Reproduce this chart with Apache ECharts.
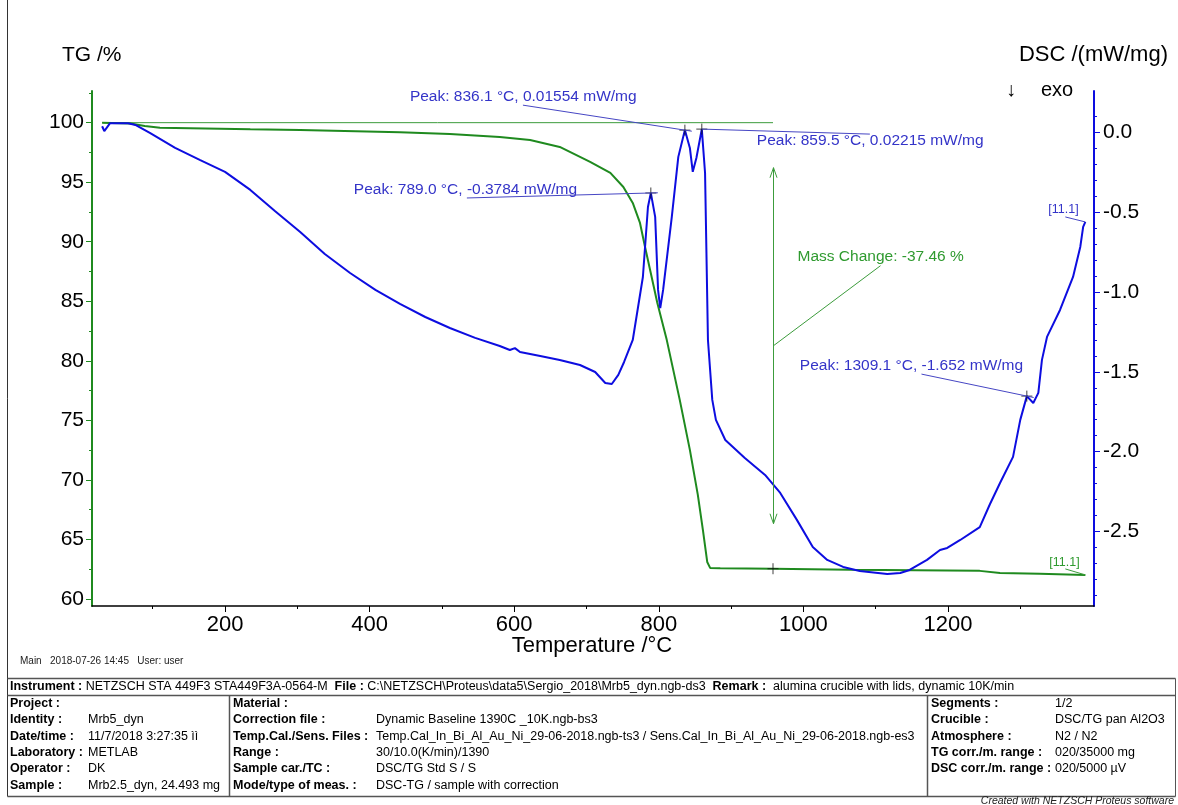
<!DOCTYPE html>
<html>
<head>
<meta charset="utf-8">
<title>TG / DSC - Mrb5_dyn</title>
<script src="https://cdn.jsdelivr.net/npm/echarts@6/dist/echarts.min.js"></script>
<style>
  html, body { margin: 0; padding: 0; background: #fff; }
  #chart { width: 1178px; height: 805px; }
</style>
</head>
<body>
<div id="chart"></div>
<script>
// axis ticks
const tempTicks = [200, 400, 600, 800, 1000, 1200];
const tempMinorTicks = [100, 300, 500, 700, 900, 1100, 1300];
const tgTicks = [60, 65, 70, 75, 80, 85, 90, 95, 100];
const tgMinorTicks = [62.5, 67.5, 72.5, 77.5, 82.5, 87.5, 92.5, 97.5, 102.5];
const dscTicks = [-2.5, -2.0, -1.5, -1.0, -0.5, 0.0];

// TG curve, %
const tgTemp = [30, 69, 89, 110, 235, 304, 442, 511, 580, 622,
  663, 705, 733, 751, 764, 774, 781, 788, 798, 811,
  829, 843, 854, 861, 867, 871, 885, 958, 1065, 1244,
  1272, 1327, 1390];
const tgValue = [100.0, 99.93, 99.72, 99.58, 99.45, 99.39, 99.19, 99.05, 98.80, 98.55,
  97.96, 96.70, 95.78, 94.60, 93.26, 91.58, 89.56, 87.63, 84.86, 81.76,
  76.72, 72.52, 68.74, 65.80, 63.11, 62.61, 62.57, 62.54, 62.45, 62.36,
  62.19, 62.11, 62.02];

// DSC curve, mW/mg
const dscTemp = [30, 33, 41, 66, 76, 96, 131, 165, 200, 235,
  269, 304, 338, 373, 408, 442, 477, 511, 546, 580,
  594, 601, 608, 636, 663, 691, 712, 726, 735, 744,
  752, 764, 778, 785, 789, 795, 799, 802, 806, 818,
  827, 836.1, 843, 847, 852, 854, 859.5, 864, 868, 874,
  879, 892, 919, 947, 968, 991, 1013, 1033, 1055, 1078,
  1116, 1134, 1147, 1171, 1189, 1199, 1217, 1244, 1258, 1272,
  1290, 1300, 1309.1, 1318, 1325, 1330, 1337, 1355, 1373, 1383,
  1387, 1390];
const dscValue = [0.04, 0.01, 0.059, 0.059, 0.048, -0.002, -0.096, -0.171, -0.246, -0.359,
  -0.491, -0.623, -0.761, -0.880, -0.986, -1.074, -1.156, -1.225, -1.287, -1.338,
  -1.363, -1.351, -1.376, -1.401, -1.426, -1.457, -1.501, -1.570, -1.576, -1.519,
  -1.438, -1.300, -0.905, -0.466, -0.378, -0.528, -0.986, -1.100, -0.986, -0.528,
  -0.152, 0.016, -0.096, -0.246, -0.159, -0.152, 0.022, -0.253, -1.300, -1.676,
  -1.801, -1.927, -2.040, -2.146, -2.259, -2.428, -2.598, -2.679, -2.723, -2.748,
  -2.767, -2.761, -2.742, -2.679, -2.617, -2.604, -2.554, -2.473, -2.33, -2.197,
  -2.033, -1.801, -1.652, -1.695, -1.632, -1.425, -1.281, -1.112, -0.905, -0.717,
  -0.591, -0.560];

// evaluated peaks
const peakTemp = [789.0, 836.1, 859.5, 1309.1];
const peakDsc = [-0.3784, 0.01554, 0.02215, -1.652];

// mass change step
const massChangeTemp = 958;
const massChange = -37.46;
const segmentLabel = '[11.1]';

// measurement info
const infoHeader = [
  ['Instrument :', 'NETZSCH STA 449F3 STA449F3A-0564-M'],
  ['File :', 'C:\\NETZSCH\\Proteus\\data5\\Sergio_2018\\Mrb5_dyn.ngb-ds3'],
  ['Remark :', ' alumina crucible with lids, dynamic 10K/min']
];
const infoCol1 = [
  ['Project :', ''],
  ['Identity :', 'Mrb5_dyn'],
  ['Date/time :', '11/7/2018 3:27:35 ìì'],
  ['Laboratory :', 'METLAB'],
  ['Operator :', 'DK'],
  ['Sample :', 'Mrb2.5_dyn, 24.493 mg']
];
const infoCol2 = [
  ['Material :', ''],
  ['Correction file :', 'Dynamic Baseline 1390C _10K.ngb-bs3'],
  ['Temp.Cal./Sens. Files :', 'Temp.Cal_In_Bi_Al_Au_Ni_29-06-2018.ngb-ts3 / Sens.Cal_In_Bi_Al_Au_Ni_29-06-2018.ngb-es3'],
  ['Range :', '30/10.0(K/min)/1390'],
  ['Sample car./TC :', 'DSC/TG Std S / S'],
  ['Mode/type of meas. :', 'DSC-TG / sample with correction']
];
const infoCol3 = [
  ['Segments :', '1/2'],
  ['Crucible :', 'DSC/TG pan Al2O3'],
  ['Atmosphere :', 'N2 / N2'],
  ['TG corr./m. range :', '020/35000 mg'],
  ['DSC corr./m. range :', '020/5000 µV']
];

const FONT = '"Liberation Sans", Arial, Helvetica, sans-serif';
const GREEN = '#1f8a1f';
const GREEN_TXT = '#2f9a2f';
const BLUE = '#0d0de0';
const BLUE_TXT = '#3434c8';

const zip = (a, b) => a.map((v, i) => [v, b[i]]);

const chart = echarts.init(document.getElementById('chart'));

function mainAxis(extra) {
  return Object.assign({
    type: 'value',
    splitLine: { show: false },
    axisLine: { show: true, onZero: false },
    axisTick: { show: true, inside: false }
  }, extra);
}

const option = {
  animation: false,
  backgroundColor: '#fff',
  grid: { left: 92, right: 84, top: 91, bottom: 199 },
  xAxis: [
    mainAxis({
      min: 16, max: 1402, position: 'bottom',
      axisLine: { show: true, onZero: false, lineStyle: { color: '#000', width: 1.5 } },
      axisTick: { show: true, customValues: tempTicks, length: 6, lineStyle: { color: '#000' } },
      axisLabel: { customValues: tempTicks, formatter: v => String(v), color: '#000', fontSize: 22, fontFamily: FONT, margin: 8 }
    }),
    mainAxis({
      min: 16, max: 1402, position: 'bottom',
      axisLine: { show: false, onZero: false },
      axisTick: { show: true, customValues: tempMinorTicks, length: 3, lineStyle: { color: '#000' } },
      axisLabel: { show: false }
    })
  ],
  yAxis: [
    mainAxis({
      min: 59.41, max: 102.66, position: 'left',
      axisLine: { show: true, onZero: false, lineStyle: { color: GREEN, width: 2 } },
      axisTick: { show: true, customValues: tgTicks, length: 6, lineStyle: { color: GREEN } },
      axisLabel: { customValues: tgTicks, formatter: v => String(v), color: '#000', fontSize: 21, fontFamily: FONT, margin: 8 }
    }),
    mainAxis({
      min: -2.968, max: 0.261, position: 'right',
      axisLine: { show: true, onZero: false, lineStyle: { color: BLUE, width: 2 } },
      axisTick: { show: true, customValues: dscTicks, length: 6, lineStyle: { color: BLUE } },
      axisLabel: { customValues: dscTicks, formatter: v => v.toFixed(1), color: '#000', fontSize: 21, fontFamily: FONT, margin: 9 }
    }),
    mainAxis({
      min: 59.41, max: 102.66, position: 'left',
      axisLine: { show: false, onZero: false },
      axisTick: { show: true, customValues: tgMinorTicks, length: 3, lineStyle: { color: GREEN } },
      axisLabel: { show: false }
    }),
    mainAxis({
      min: -2.968, max: 0.261, position: 'right',
      axisLine: { show: false, onZero: false },
      axisTick: {
        show: true, length: 3, lineStyle: { color: BLUE },
        customValues: Array.from({ length: 31 }, (_, i) => +(-2.9 + i * 0.1).toFixed(1))
          .filter(v => Math.abs(v * 2 - Math.round(v * 2)) > 1e-6)
      },
      axisLabel: { show: false }
    })
  ],
  series: [
    {
      name: 'TG', type: 'line', xAxisIndex: 0, yAxisIndex: 0,
      data: zip(tgTemp, tgValue), showSymbol: false, z: 3,
      lineStyle: { color: GREEN, width: 2 }
    },
    {
      name: 'TG start', type: 'line', xAxisIndex: 0, yAxisIndex: 0,
      data: [[tgTemp[0], tgValue[0]], [massChangeTemp, tgValue[0]]], showSymbol: false, z: 2,
      lineStyle: { color: '#3c9c3c', width: 1 }
    },
    {
      name: 'DSC', type: 'line', xAxisIndex: 0, yAxisIndex: 1,
      data: zip(dscTemp, dscValue), showSymbol: false, z: 4,
      lineStyle: { color: BLUE, width: 2 }
    },
    {
      name: 'peaks', type: 'scatter', xAxisIndex: 0, yAxisIndex: 1, z: 6,
      data: zip(peakTemp, peakDsc),
      symbol: 'path://M5,0L5,10M0,5L10,5', symbolSize: [11, 11],
      itemStyle: { color: 'none', borderColor: '#111', borderWidth: 1 }
    },
    {
      name: 'mass change', type: 'scatter', xAxisIndex: 0, yAxisIndex: 0, z: 6,
      data: [[massChangeTemp, 100 + massChange]],
      symbol: 'path://M5,0L5,10M0,5L10,5', symbolSize: [11, 11],
      itemStyle: { color: 'none', borderColor: '#111', borderWidth: 1 }
    }
  ]
};

chart.setOption(option);

// annotations and info block
const measureCtx = document.createElement('canvas').getContext('2d');
function textWidth(str, font) {
  measureCtx.font = font;
  return measureCtx.measureText(str).width;
}
function label(text, x, y, size, color, align, extra) {
  return {
    type: 'text', x: x, y: y, silent: true, z: 100,
    style: Object.assign({
      text: text, fill: color || '#000', font: size + 'px ' + FONT,
      align: align || 'left', verticalAlign: 'middle',
      textAlign: align || 'left', textVerticalAlign: 'middle'
    }, extra || {})
  };
}
function seg(x1, y1, x2, y2, color, w) {
  return { type: 'line', silent: true, z: 100, shape: { x1, y1, x2, y2 }, style: { stroke: color, lineWidth: w || 1 } };
}
function vee(points, color) {
  return { type: 'polyline', silent: true, z: 100, shape: { points: points }, style: { stroke: color, fill: null, lineWidth: 1 } };
}
const px = (t, v, yi) => chart.convertToPixel({ xAxisIndex: 0, yAxisIndex: yi }, [t, v]);

const g = [];

// axis titles
g.push(label('TG /%', 62, 55, 21));
g.push(label('DSC /(mW/mg)', 1168, 55, 22, '#000', 'right'));
g.push(label('\u2193', 1011, 90, 20, '#000', 'center'));
g.push(label('exo', 1041, 90, 20));
g.push(label('Temperature /\u00b0C', 592, 646, 22, '#000', 'center'));

// peak labels
const annFont = '15.5px ' + FONT;
const peakLabelDx = [-297, -275, 55, -227];
const peakLabelDy = [-3, -33, 12, -30];
peakTemp.forEach((t, i) => {
  const p = px(t, peakDsc[i], 1);
  const prefix = 'Peak: ' + t.toFixed(1) + ' \u00b0C, ';
  const text = prefix + peakDsc[i] + ' mW/mg';
  const lx = p[0] + peakLabelDx[i];
  const ly = p[1] + peakLabelDy[i];
  g.push(label(text, lx, ly, 15.5, BLUE_TXT));
  const ax = lx + textWidth(prefix, annFont);
  const ay = peakLabelDy[i] < 0 ? ly + 8 : ly - 7;
  // leader runs a little past the peak mark
  const dx = p[0] - ax, dy = p[1] - ay, len = Math.hypot(dx, dy);
  const over = peakLabelDy[i] < 0 ? 7 : 0;
  g.push(seg(ax, ay, p[0] + dx / len * over, p[1] + dy / len * over, '#4646c4', 1));
});

// mass change arrow
const mTop = px(massChangeTemp, tgValue[0], 0);
const mBot = px(massChangeTemp, 100 + massChange, 0);
const ax = Math.round(mTop[0]) + 0.5;
const y1 = mTop[1] + 45, y2 = mBot[1] - 45, ym = (y1 + y2) / 2;
g.push(seg(ax, y1, ax, y2, '#3c9c3c', 1));
g.push(vee([[ax - 3.5, y1 + 10], [ax, y1], [ax + 3.5, y1 + 10]], '#3c9c3c'));
g.push(vee([[ax - 3.5, y2 - 10], [ax, y2], [ax + 3.5, y2 - 10]], '#3c9c3c'));
g.push(label('Mass Change: ' + massChange.toFixed(2) + ' %', ax + 24, ym - 89, 15.5, GREEN_TXT));
g.push(seg(ax + 107, ym - 80, ax, ym, '#3c9c3c', 1));

// segment labels at curve ends
const dEnd = px(dscTemp[dscTemp.length - 1], dscValue[dscValue.length - 1], 1);
g.push(label(segmentLabel, dEnd[0] - 37, dEnd[1] - 12, 12.5, BLUE_TXT));
g.push(seg(dEnd[0] - 20, dEnd[1] - 5, dEnd[0], dEnd[1], '#4646c4', 1));
const tEnd = px(tgTemp[tgTemp.length - 1], tgValue[tgValue.length - 1], 0);
g.push(label(segmentLabel, tEnd[0] - 36, tEnd[1] - 12, 12.5, GREEN_TXT));
g.push(seg(tEnd[0] - 20, tEnd[1] - 6, tEnd[0], tEnd[1], '#3c9c3c', 1));

// frame and info table
const LINE = '#555';
g.push(seg(7.5, 0, 7.5, 796.5, '#333', 1));
g.push(seg(1175.5, 678.5, 1175.5, 796.5, LINE, 1));
g.push(seg(7.5, 678.5, 1175.5, 678.5, LINE, 1.5));
g.push(seg(7.5, 695.5, 1175.5, 695.5, LINE, 1.5));
g.push(seg(7.5, 796.5, 1175.5, 796.5, LINE, 1.5));
g.push(seg(229.5, 695.5, 229.5, 796.5, LINE, 1.5));
g.push(seg(927.5, 695.5, 927.5, 796.5, LINE, 1.5));

g.push(label('Main   2018-07-26 14:45   User: user', 20, 661, 10, '#222'));

const TS = 12.5;
const rich = {
  b: { fontWeight: 'bold', fontSize: TS, fontFamily: FONT, fill: '#000' },
  n: { fontSize: TS, fontFamily: FONT, fill: '#000' }
};
const headerText = infoHeader.map(r => '{b|' + r[0] + '}{n| ' + r[1] + '}').join('{n|  }');
g.push(label(headerText, 10, 687, TS, '#000', 'left', { rich: rich }));

const rowY = [703.5, 720, 736.5, 752.5, 769, 785.5];
function infoColumn(rows, xLabel, xValue) {
  rows.forEach((r, i) => {
    g.push(label(r[0], xLabel, rowY[i], TS, '#000', 'left', { font: 'bold ' + TS + 'px ' + FONT }));
    if (r[1]) g.push(label(r[1], xValue, rowY[i], TS, '#000'));
  });
}
infoColumn(infoCol1, 10, 88);
infoColumn(infoCol2, 233, 376);
infoColumn(infoCol3, 931, 1055);

g.push(label('Created with NETZSCH Proteus software', 1174, 801, 10.5, '#222', 'right', { font: 'italic 10.5px ' + FONT }));

chart.setOption({ graphic: g });
</script>
</body>
</html>
